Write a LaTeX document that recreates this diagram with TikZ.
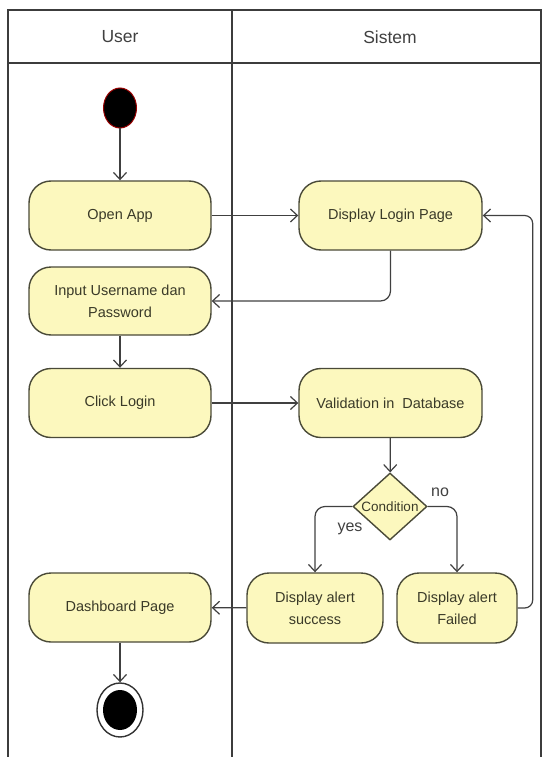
\documentclass[tikz,border=0pt]{standalone}
\usepackage{fontspec}
\setmainfont{Liberation Sans}
\usepackage{tikz}
\usetikzlibrary{arrows.meta,shapes.geometric}

\definecolor{actfill}{HTML}{FCF8BE}
\definecolor{actline}{HTML}{4A4A38}
\definecolor{laneline}{HTML}{3C3C3C}
\definecolor{acttext}{HTML}{3A3A28}

\begin{document}
\begin{tikzpicture}[x=1pt,y=-1pt,
        action/.style={draw=actline,fill=actfill,line width=1.4pt,rounded corners=22pt,
            minimum width=182pt,minimum height=69pt,align=center,inner sep=2pt,
            font=\fontsize{14.5}{22}\selectfont,text=acttext},
        flow/.style={draw=black!75,line width=1.2pt,-{Straight Barb[length=7pt,width=13pt,line width=1.2pt]}},
        lane/.style={draw=laneline,line width=1.2pt}]
    \useasboundingbox (0,0) rectangle (544,757);

    % swimlanes
    \draw[lane] (8,757) -- (8,10) -- (541,10) -- (541,757);
    \draw[lane] (8,63) -- (541,63);
    \draw[lane] (232,10) -- (232,757);
    \node[text=black!75,font=\fontsize{17.5}{20}\selectfont] (hUser) at (120,37) {User};
    \node[text=black!75,font=\fontsize{17.5}{20}\selectfont] (hSistem) at (390,37) {Sistem};

    % user lane
    \node[ellipse,fill=black,draw=red!60!black,line width=1pt,minimum width=33pt,minimum height=40pt,inner sep=0pt] (start) at (120,108) {};
    \node[action] (openApp) at (120,215.5) {Open App};
    \node[action,minimum height=68pt] (inputUser) at (120,301) {Input Username dan\\Password};
    \node[action] (clickLogin) at (120,403) {Click Login};
    \node[action] (dashboard) at (120,607.5) {Dashboard Page};
    \node[ellipse,draw=black!80,line width=1.4pt,fill=white,minimum width=46pt,minimum height=54pt,inner sep=0pt] (stop) at (120,710) {};
    \node[ellipse,fill=black,minimum width=34pt,minimum height=40pt,inner sep=0pt] at (stop) {};

    % sistem lane
    \node[action,minimum width=183pt] (loginPage) at (390.5,215.5) {Display Login Page};
    \node[action,minimum width=183pt] (validation) at (390.5,403) {Validation in~ Database};
    \node[diamond,draw=actline,fill=actfill,line width=1.4pt,minimum width=74pt,minimum height=67pt,inner sep=0pt] (condition) at (390,506.5) {};
    \node[font=\fontsize{13.5}{15}\selectfont,text=acttext] at (condition) {Condition};
    \node[action,minimum width=136pt,minimum height=70pt] (alertSuccess) at (315,608) {Display alert\\success};
    \node[action,minimum width=120pt,minimum height=70pt] (alertFailed) at (457,608) {Display alert\\Failed};

    % flows
    \draw[flow] (start) -- (openApp);
    \draw[flow] (openApp) -- (loginPage);
    \draw[flow,rounded corners=10pt] (loginPage.south) |- (inputUser.east);
    \draw[flow] (inputUser) -- (clickLogin);
    \draw[flow] (clickLogin) -- (validation);
    \draw[flow] (validation) -- (condition);
    \draw[flow,rounded corners=10pt] (condition.west) -| (alertSuccess.north);
    \draw[flow,rounded corners=10pt] (condition.east) -| (alertFailed.north);
    \draw[flow] (alertSuccess) -- (dashboard);
    \draw[flow,rounded corners=8pt] (alertFailed.east) -- ++(15,0) |- (loginPage.east);
    \draw[flow] (dashboard) -- (stop);

    \node[text=black!75,font=\fontsize{16}{18}\selectfont] (yesLabel) at (350,529) {yes};
    \node[text=black!75,font=\fontsize{16}{18}\selectfont] (noLabel) at (440,492) {no};
\end{tikzpicture}
\end{document}
